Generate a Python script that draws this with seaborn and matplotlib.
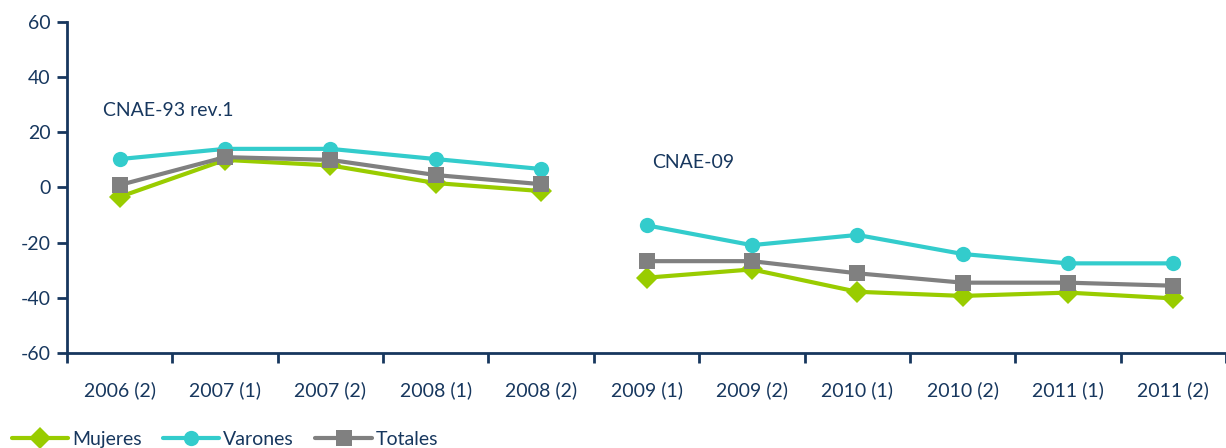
import numpy as np
import pandas as pd
import seaborn as sns
import matplotlib.pyplot as plt

# periods and classification (CNAE-93 rev.1 until 2008, CNAE-09 from 2009)
periods = ['2006 (2)', '2007 (1)', '2007 (2)', '2008 (1)', '2008 (2)',
           '2009 (1)', '2009 (2)', '2010 (1)', '2010 (2)', '2011 (1)', '2011 (2)']
segment = ['CNAE-93', 'CNAE-93', 'CNAE-93', 'CNAE-93', 'CNAE-93',
           'CNAE-09', 'CNAE-09', 'CNAE-09', 'CNAE-09', 'CNAE-09', 'CNAE-09']
mujeres = [-3.4, 10.0, 8.0, 1.6, -1.3, -32.7, -29.7, -37.8, -39.3, -38.1, -40.2]
varones = [10.3, 14.0, 14.0, 10.3, 6.7, -13.7, -20.9, -17.2, -24.1, -27.5, -27.5]
totales = [0.9, 11.0, 10.0, 4.5, 1.2, -26.7, -26.7, -31.1, -34.5, -34.5, -35.6]

navy = '#17375E'
colors = {'Mujeres': '#99CC00', 'Varones': '#33CCCC', 'Totales': '#808080'}
markers = {'Mujeres': 'D', 'Varones': 'o', 'Totales': 's'}

pos = np.arange(len(periods))
rows = []
for name, vals in [('Mujeres', mujeres), ('Varones', varones), ('Totales', totales)]:
    for p, s, v in zip(pos, segment, vals):
        rows.append({'x': p, 'seg': s, 'serie': name, 'valor': v})
df = pd.DataFrame(rows)

sns.set_style('white')
plt.rcParams['font.family'] = ['Lato', 'DejaVu Sans']
plt.rcParams['axes.unicode_minus'] = False

fig = plt.figure(figsize=(12.26, 4.48), dpi=100)
ax = fig.add_axes([0.0547, 0.212, 0.9453, 0.739])

sns.lineplot(data=df, x='x', y='valor', hue='serie', style='serie',
             units='seg', estimator=None, palette=colors, markers=markers,
             dashes=False, linewidth=3, markersize=11, markeredgewidth=0,
             ax=ax)

ax.set_ylim(-60, 60)
ax.set_yticks(np.arange(-60, 61, 20))
ax.set_xlim(-0.5, 10.42)
ax.set_xticks(pos)
ax.set_xticklabels(periods)
ax.set_xticks(np.arange(-0.5, 10.6, 1), minor=True)
ax.tick_params(axis='x', which='major', length=0, pad=20, labelsize=14, labelcolor=navy)
ax.tick_params(axis='x', which='minor', length=7, width=2, color=navy, direction='out', bottom=True)
ax.tick_params(axis='y', length=7, width=2, color=navy, direction='out', left=True,
               labelsize=14, labelcolor=navy, pad=5)
ax.set_xlabel('')
ax.set_ylabel('')
for side in ['top', 'right']:
    ax.spines[side].set_visible(False)
for side in ['left', 'bottom']:
    ax.spines[side].set_color(navy)
    ax.spines[side].set_linewidth(2)

ax.text(-0.16, 28, 'CNAE-93 rev.1', color=navy, fontsize=14, va='center', ha='left')
ax.text(5.05, 9.2, 'CNAE-09', color=navy, fontsize=14, va='center', ha='left')

handles, labels = ax.get_legend_handles_labels()
ax.get_legend().remove()
fig.legend(handles, labels, loc='lower left', bbox_to_anchor=(0.0, -0.025), ncol=3,
           frameon=False, fontsize=14, labelcolor=navy, handlelength=2.9,
           handletextpad=0.2, columnspacing=1.1, borderaxespad=0.2)

fig.savefig('out.png', dpi=100)
